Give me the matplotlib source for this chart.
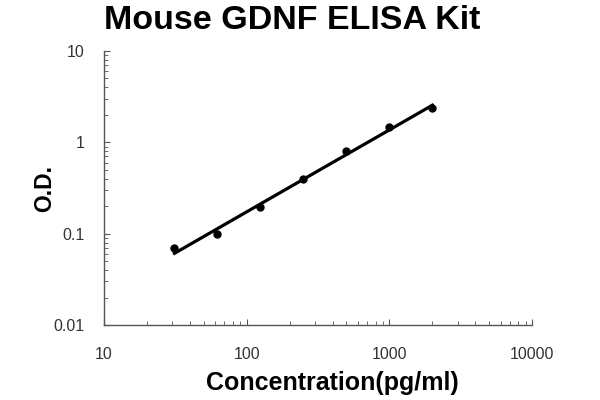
import numpy as np
import matplotlib
matplotlib.use("Agg")
import matplotlib.pyplot as plt
from matplotlib.ticker import LogLocator, FixedLocator, FixedFormatter

plt.rcParams['font.family'] = ['Liberation Sans', 'DejaVu Sans']

# standard curve readings
conc = [31.25, 62.5, 125, 250, 500, 1000, 2000]
od = [0.069, 0.099, 0.195, 0.396, 0.80, 1.47, 2.38]

x_ticks = [10, 100, 1000, 10000]
x_labels = ["10", "100", "1000", "10000"]
y_ticks = [0.01, 0.1, 1, 10]
y_labels = ["0.01", "0.1", "1", "10"]

fig = plt.figure(figsize=(6, 4), dpi=100)
ax = fig.add_axes([0.173, 0.1875, 0.714, 0.685])

# power fit in log space
k, b = np.polyfit(np.log10(conc), np.log10(od), 1)
xs = np.array([conc[0], conc[-1]])
ax.plot(xs, 10 ** (k * np.log10(xs) + b), color='black', lw=2.3, zorder=2)
ax.plot(conc, od, 'o', color='black', ms=5, zorder=3)

ax.set_xscale('log')
ax.set_yscale('log')
ax.set_xlim(10, 10000)
ax.set_ylim(0.01, 10)

ax.xaxis.set_major_locator(FixedLocator(x_ticks))
ax.xaxis.set_major_formatter(FixedFormatter(x_labels))
ax.yaxis.set_major_locator(FixedLocator(y_ticks))
ax.yaxis.set_major_formatter(FixedFormatter(y_labels))
ax.xaxis.set_minor_locator(LogLocator(base=10, subs=np.arange(2, 10)))
ax.yaxis.set_minor_locator(LogLocator(base=10, subs=np.arange(2, 10)))
ax.xaxis.set_minor_formatter(plt.NullFormatter())
ax.yaxis.set_minor_formatter(plt.NullFormatter())

for s in ['top', 'right']:
    ax.spines[s].set_visible(False)
for s in ['left', 'bottom']:
    ax.spines[s].set_color('#555555')
    ax.spines[s].set_linewidth(1.0)

ax.tick_params(axis='both', which='both', direction='in', color='#555555')
ax.tick_params(axis='both', which='major', length=4, labelsize=11.5, labelcolor='#333333')
ax.tick_params(axis='both', which='minor', length=3)
ax.tick_params(axis='x', which='major', pad=16)
ax.tick_params(axis='y', which='major', pad=14)

ax.set_xlabel("Concentration(pg/ml)", fontsize=18, fontweight='bold')
ax.xaxis.set_label_coords(0.533, -0.237, transform=ax.transAxes)
ax.xaxis.label.set_va('baseline')
ax.set_ylabel("O.D.", fontsize=16.5, fontweight='bold')
ax.yaxis.set_label_coords(-0.112, 0.5, transform=ax.transAxes)
fig.text(0.487, 0.9275, "Mouse GDNF ELISA Kit", fontsize=24.5, fontweight='bold',
         ha='center', va='baseline')

fig.savefig("out.png", dpi=100)
